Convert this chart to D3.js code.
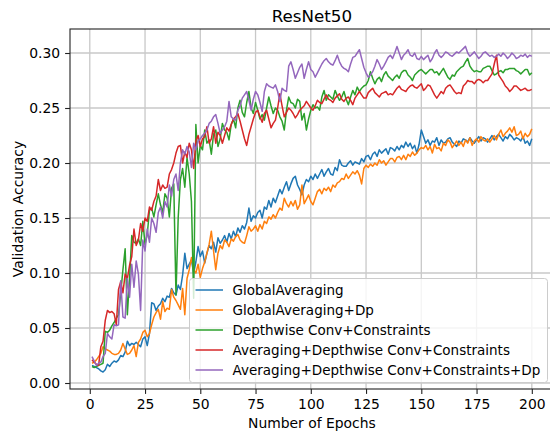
<!DOCTYPE html>
<html>
<head>
<meta charset="utf-8">
<script src="https://cdn.jsdelivr.net/npm/d3@7"></script>
<style>
  body { margin: 0; background: #fff; }
  text { font-family: "DejaVu Sans", sans-serif; fill: #000; }
</style>
</head>
<body>
<div id="chart"></div>
<script>
// validation accuracy per epoch, stored x1000
var epochs = d3.range(1, 201);

var globalAvg = [
  16, 15, 14, 13, 11, 10, 12, 17, 15, 18,
  20, 19, 21, 25, 24, 28, 38, 34, 36, 35,
  37, 35, 33, 40, 42, 34, 45, 73, 72, 66,
  70, 72, 77, 74, 79, 78, 86, 82, 80, 89,
  85, 98, 118, 104, 108, 112, 100, 110, 124, 115,
  120, 109, 118, 125, 122, 128, 119, 132, 127, 130,
  134, 128, 136, 131, 138, 133, 141, 137, 143, 140,
  146, 159, 147, 152, 150, 155, 157, 150, 160, 158,
  166, 160, 168, 164, 170, 176, 172, 178, 183, 175,
  181, 186, 188, 180, 176, 171, 180, 185, 183, 188,
  185, 190, 186, 190, 194, 188, 192, 195, 190, 189,
  196, 193, 203, 198, 197, 197, 200, 202, 198, 201,
  200, 199, 204, 201, 206, 207, 203, 208, 210, 206,
  212, 209, 211, 213, 208, 214, 213, 211, 215, 212,
  216, 214, 219, 215, 218, 213, 216, 209, 217, 230,
  224, 218, 221, 216, 220, 219, 223, 216, 221, 218,
  219, 222, 223, 219, 217, 215, 220, 218, 222, 221,
  219, 223, 220, 218, 221, 224, 220, 223, 222, 219,
  222, 225, 221, 224, 226, 223, 220, 224, 222, 226,
  224, 221, 223, 222, 220, 224, 218, 220, 216, 222
];

var globalAvgDp = [
  18, 19, 21, 24, 27, 33, 31, 30, 29, 27,
  26, 26, 27, 30, 36, 31, 26, 27, 30, 34,
  24, 37, 40, 46, 48, 42, 45, 53, 60, 64,
  67, 58, 74, 65, 68, 67, 85, 78, 75, 71,
  67, 86, 62, 95, 103, 114, 103, 100, 108, 96,
  104, 110, 118, 126, 138, 120, 103, 118, 125, 122,
  130, 128, 124, 131, 129, 133, 135, 130, 128, 127,
  134, 142, 138, 140, 143, 138, 144, 140, 147, 145,
  151, 149, 153, 150, 155, 159, 157, 168, 163, 160,
  165, 161, 166, 158, 162, 180, 163, 167, 171, 165,
  162, 168, 174, 176, 172, 177, 175, 178, 174, 180,
  178, 182, 183, 186, 185, 190, 186, 189, 192, 190,
  193, 189, 181, 195, 198, 196, 199, 197, 200, 198,
  203, 200, 202, 198, 201, 204, 204, 201, 205, 206,
  203, 207, 203, 208, 206, 210, 207, 209, 212, 214,
  213, 216, 212, 215, 209, 217, 213, 214, 211, 218,
  216, 221, 219, 214, 217, 220, 216, 219, 215, 221,
  218, 223, 216, 220, 222, 219, 224, 221, 220, 222,
  219, 222, 225, 221, 226, 230, 224, 227, 229, 232,
  228, 233, 225, 226, 229, 222, 227, 224, 226, 231
];

var depthwise = [
  15, 14, 15, 16, 17, 18, 47, 46, 48, 52,
  55, 59, 62, 82, 103, 122, 62, 95, 134, 128,
  127, 131, 125, 147, 126, 135, 157, 159, 151, 162,
  172, 162, 155, 172, 168, 151, 177, 181, 80, 150,
  185, 195, 178, 205, 190, 165, 77, 235, 200, 216,
  212, 230, 218, 221, 208, 226, 230, 215, 222, 236,
  230, 228, 221, 235, 240, 232, 250, 257, 246, 242,
  255, 265, 250, 245, 255, 248, 240, 244, 239, 250,
  260, 252, 245, 250, 248, 242, 238, 230, 248, 260,
  255, 254, 250, 258, 256, 239, 245, 230, 240, 248,
  253, 250, 251, 248, 260, 266, 257, 262, 260, 258,
  266, 261, 257, 260, 265, 258, 253, 260, 266, 262,
  269, 265, 268, 270, 271, 275, 283, 277, 272, 276,
  278, 274, 280, 283, 279, 277, 275, 278, 280, 277,
  282, 284, 284, 280, 278, 275, 280, 282, 284, 285,
  283, 281, 283, 285, 285, 282, 283, 280, 283, 286,
  282, 278, 276, 280, 279, 283, 285, 287, 288, 292,
  295, 288, 285, 283, 284, 283, 283, 286, 287, 288,
  288, 284, 280, 281, 283, 284, 282, 285, 285, 286,
  286, 286, 284, 283, 281, 283, 285, 285, 280, 282
];

var avgDepthwise = [
  21, 19, 17, 16, 33, 38, 57, 66, 64, 65,
  63, 53, 85, 92, 82, 99, 95, 107, 115, 140,
  125, 130, 145, 138, 150, 147, 160, 157, 165, 170,
  185, 175, 180, 177, 178, 190, 194, 200, 209, 215,
  216, 200, 210, 205, 218, 212, 195, 220, 225, 215,
  222, 224, 233, 218, 222, 233, 218, 228, 225, 218,
  225, 232, 229, 235, 240, 242, 245, 238, 230, 222,
  216, 226, 233, 240, 246, 248, 242, 237, 245, 248,
  240, 232, 236, 239, 250, 263, 252, 242, 246, 250,
  248, 245, 241, 244, 248, 250, 252, 256, 253, 250,
  248, 252, 257, 255, 254, 258, 262, 258, 257, 255,
  259, 261, 263, 258, 256, 259, 260, 257, 253, 259,
  262, 265, 262, 259, 259, 264, 266, 268, 264, 262,
  260, 263, 264, 265, 262, 263, 262, 265, 268, 270,
  267, 266, 265, 268, 270, 271, 269, 268, 270, 272,
  266, 268, 271, 270, 266, 262, 259, 262, 265, 263,
  268, 270, 271, 268, 265, 263, 264, 263, 270, 272,
  275, 274, 274, 272, 275, 276, 275, 273, 275, 275,
  278, 281, 290, 298, 280, 277, 274, 270, 268, 265,
  267, 270, 270, 268, 266, 267, 268, 266, 266, 267
];

var avgDepthwiseDp = [
  24, 20, 16, 18, 19, 24, 27, 45, 42, 40,
  53, 52, 53, 93, 60, 59, 95, 78, 108, 87,
  111, 99, 66, 130, 120, 140, 128, 150, 145, 137,
  155, 160, 150, 165, 160, 180, 170, 185, 190, 175,
  200, 212, 208, 215, 210, 196, 218, 212, 220, 222,
  225, 227, 230, 236, 238, 242, 244, 236, 227, 230,
  233, 238, 256, 242, 240, 239, 248, 252, 259, 262,
  265, 257, 248, 258, 265, 262, 255, 247, 265, 272,
  270, 269, 268, 271, 265, 256, 268, 266, 265, 288,
  292, 285, 277, 282, 287, 290, 277, 285, 292, 285,
  283, 278, 282, 286, 290, 293, 295, 292, 290, 289,
  293, 298, 292, 288, 286, 285, 283, 290, 296, 297,
  300, 303, 295, 287, 282, 278, 280, 283, 288, 294,
  290, 285, 288, 292, 296, 298, 295, 300, 306, 300,
  294, 298, 300, 303, 298, 297, 300, 295, 294, 297,
  294, 296, 298, 292, 295, 300, 303, 298, 296, 298,
  301, 300, 298, 297, 299, 301, 300, 302, 304, 306,
  300, 297, 299, 301, 298, 295, 297, 300, 301, 299,
  297, 298, 296, 297, 299, 297, 300, 298, 295, 297,
  300, 298, 295, 296, 298, 297, 299, 296, 298, 297
];

var seriesNames = [
  "GlobalAveraging",
  "GlobalAveraging+Dp",
  "Depthwise Conv+Constraints",
  "Averaging+Depthwise Conv+Constraints",
  "Averaging+Depthwise Conv+Constraints+Dp"
];
var seriesValues = [globalAvg, globalAvgDp, depthwise, avgDepthwise, avgDepthwiseDp];
var colors = ["#1f77b4", "#ff7f0e", "#2ca02c", "#d62728", "#9467bd"];
var xTicks = [0, 25, 50, 75, 100, 125, 150, 175, 200];
var yTicks = [0, 0.05, 0.10, 0.15, 0.20, 0.25, 0.30];

var svgWidth = 550, svgHeight = 435;
var plot = {left: 70, right: 553.8, top: 29, bottom: 389};

var svg = d3.select("#chart").append("svg")
  .attr("width", svgWidth)
  .attr("height", svgHeight);

var x = d3.scaleLinear().domain([-8.95, 209.95]).range([plot.left, plot.right]);
var y = d3.scaleLinear().domain([-0.00545, 0.32182]).range([plot.bottom, plot.top]);

svg.append("clipPath").attr("id", "plotclip")
  .append("rect")
  .attr("x", plot.left).attr("y", plot.top)
  .attr("width", plot.right - plot.left).attr("height", plot.bottom - plot.top);

// grid
var grid = svg.append("g");
grid.selectAll("line.vx").data(xTicks).enter().append("line")
  .attr("x1", d => x(d)).attr("x2", d => x(d))
  .attr("y1", plot.top).attr("y2", plot.bottom)
  .attr("stroke", "#c8c8c8").attr("stroke-width", 1.3);
grid.selectAll("line.hy").data(yTicks).enter().append("line")
  .attr("y1", d => y(d)).attr("y2", d => y(d))
  .attr("x1", plot.left).attr("x2", plot.right)
  .attr("stroke", "#c8c8c8").attr("stroke-width", 1.3);

// lines
var line = d3.line()
  .x((d, i) => x(epochs[i]))
  .y(d => y(d / 1000));

svg.append("g").attr("clip-path", "url(#plotclip)")
  .selectAll("path").data(seriesValues).enter().append("path")
  .attr("d", d => line(d))
  .attr("fill", "none")
  .attr("stroke", (d, i) => colors[i])
  .attr("stroke-width", 1.5)
  .attr("stroke-linejoin", "round");

// spines
svg.append("rect")
  .attr("x", plot.left).attr("y", plot.top)
  .attr("width", plot.right - plot.left).attr("height", plot.bottom - plot.top)
  .attr("fill", "none").attr("stroke", "#222").attr("stroke-width", 1.1);

// axes
var xAxis = svg.append("g")
  .attr("transform", `translate(0,${plot.bottom})`)
  .call(d3.axisBottom(x).tickValues(xTicks).tickSize(4.9).tickPadding(4.9).tickFormat(d3.format("d")));
var yAxis = svg.append("g")
  .attr("transform", `translate(${plot.left},0)`)
  .call(d3.axisLeft(y).tickValues(yTicks).tickSize(4.9).tickPadding(4.9).tickFormat(d3.format(".2f")));

[xAxis, yAxis].forEach(function(a) {
  a.select(".domain").remove();
  a.selectAll(".tick line").attr("stroke", "#222").attr("stroke-width", 1.1);
  a.selectAll(".tick text")
    .style("font-family", "DejaVu Sans, sans-serif")
    .style("font-size", "13.9px")
    .attr("fill", "#000");
});

// titles
svg.append("text")
  .attr("x", (plot.left + plot.right) / 2)
  .attr("y", 22)
  .attr("text-anchor", "middle")
  .style("font-size", "16.7px")
  .text("ResNet50");

svg.append("text")
  .attr("x", (plot.left + plot.right) / 2)
  .attr("y", 428)
  .attr("text-anchor", "middle")
  .style("font-size", "13.9px")
  .text("Number of Epochs");

svg.append("text")
  .attr("transform", `translate(23,${(plot.top + plot.bottom) / 2}) rotate(-90)`)
  .attr("text-anchor", "middle")
  .style("font-size", "13.9px")
  .text("Validation Accuracy");

// legend
var legend = svg.append("g");
legend.append("rect")
  .attr("x", 189.5).attr("y", 278.5)
  .attr("width", 358).attr("height", 104)
  .attr("rx", 3).attr("ry", 3)
  .attr("fill", "#fff").attr("fill-opacity", 0.8)
  .attr("stroke", "#cccccc").attr("stroke-width", 1);

var rows = legend.selectAll("g.row").data(seriesNames).enter().append("g")
  .attr("transform", (d, i) => `translate(0,${290 + i * 20})`);
rows.append("line")
  .attr("x1", 195.5).attr("x2", 223)
  .attr("stroke", (d, i) => colors[i])
  .attr("stroke-width", 1.5);
rows.append("text")
  .attr("x", 232.5)
  .attr("dy", "0.36em")
  .style("font-size", "13.5px")
  .text(d => d);
</script>
</body>
</html>
